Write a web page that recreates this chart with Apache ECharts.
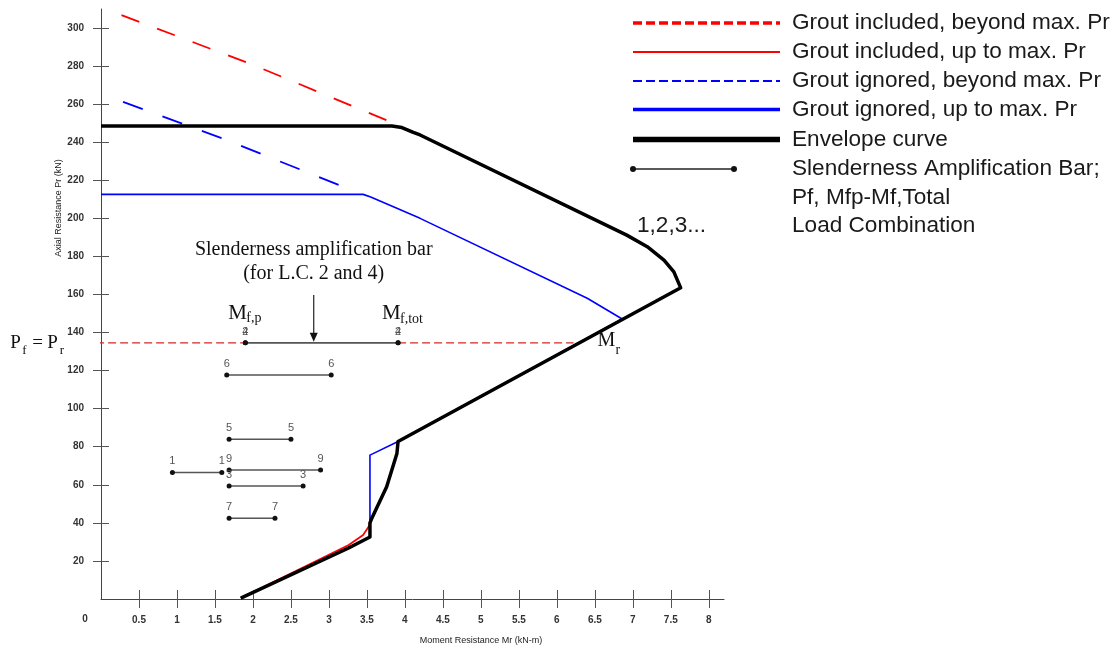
<!DOCTYPE html>
<html><head><meta charset="utf-8">
<script src="https://cdn.jsdelivr.net/npm/echarts@6/dist/echarts.min.js"></script>
<style>html,body{margin:0;padding:0;background:#fff}#c{width:1117px;height:649px}</style>
</head><body><div id="c"></div>
<script>
// ---- data (M in kN-m, P in kN) ----
const groutIncBeyond = [[0.27,306.8],[2.01,280.5],[3.84,250.2]];
const groutIncUpTo = [[0,248.5],[3.83,248.5],[3.96,247.9],[4.11,245.5],[4.2,243.8],[6.92,191.2],[7.19,185.1],[7.41,178.1],[7.54,171.9],[7.63,163.5],[3.91,82.8],[3.895,76.5],[3.76,59],[3.56,42],[3.54,41],[3.52,37.8],[3.45,33.6],[3.26,28.4],[1.84,0.5]];
const groutIgnBeyond = [[0.29,261.2],[1.655,241.1],[3.19,216.6]];
const groutIgnUpTo = [[0,212.6],[3.45,212.6],[3.55,211.2],[4.2,200],[6.4,158],[6.86,147.1],[3.91,82.8],[3.54,75.6],[3.54,43.2],[3.54,32.6],[1.84,0.5]];
const envelope = [[0,248.5],[3.83,248.5],[3.96,247.7],[4.11,245.2],[4.2,243.8],[6.92,191.2],[7.19,185.1],[7.41,178.1],[7.54,171.9],[7.63,163.5],[3.91,82.8],[3.895,76.5],[3.76,59],[3.56,42],[3.54,40],[3.54,32.6],[3.26,26.8],[1.84,0.5]];

// slenderness amplification bars per load combination
const lcIds  = ['1','2','3','4','5','6','7','9'];
const lcPf   = [66.5,134.6,59.4,134.6,84.0,117.7,42.4,67.8];
const lcMfp  = [0.94,1.90,1.686,1.90,1.686,1.655,1.686,1.686];
const lcMtot = [1.59,3.91,2.66,3.91,2.50,3.03,2.29,2.89];

// Pf = Pr reference line (L.C. 2)
const pfLineStartM = -0.38;
const pfLineEndM = 6.22;
const arrowM = 2.80, arrowTopP = 159.7;

const xTicks = [0.5,1,1.5,2,2.5,3,3.5,4,4.5,5,5.5,6,6.5,7,7.5,8];
const yTicks = [20,40,60,80,100,120,140,160,180,200,220,240,260,280,300];

const legendItems = [
  'Grout included, beyond max. Pr',
  'Grout included, up to max. Pr',
  'Grout ignored, beyond max. Pr',
  'Grout ignored, up to max. Pr',
  'Envelope curve',
  'Slenderness Amplification Bar;',
  'Pf, Mfp-Mf,Total',
  'Load Combination'
];

// ---- chart ----
const chart = echarts.init(document.getElementById('c'), null, {renderer:'canvas'});
const tickFont = "'Liberation Sans Narrow','Liberation Sans',Arial,sans-serif";

function mkX(inside){
  return {type:'value', gridIndex:0, position:'bottom', min:0, max:8.2,
    axisLine:{show:!inside, onZero:false, lineStyle:{color:'#444', width:1}},
    axisTick:{show:true, inside:inside, customValues:xTicks, length:9, lineStyle:{color:'#555', width:1}},
    axisLabel:{show:!inside, customValues:xTicks, margin:16, fontSize:10, fontWeight:'bold', fontFamily:tickFont, color:'#333'},
    splitLine:{show:false}};
}
function mkY(inside){
  return {type:'value', gridIndex:0, position:'left', min:0, max:310,
    axisLine:{show:!inside, onZero:false, lineStyle:{color:'#444', width:1}},
    axisTick:{show:true, inside:inside, customValues:yTicks, length:8, lineStyle:{color:'#555', width:1}},
    axisLabel:{show:!inside, customValues:yTicks, margin:17, fontSize:10, fontWeight:'bold', fontFamily:tickFont, color:'#333'},
    splitLine:{show:false}};
}

const series = [];
function curve(data, color, width, type, z){
  series.push({type:'line', data:data, symbol:'none', silent:true, z:z,
    lineStyle:{color:color, width:width, type:type, cap:'butt', join:'round'}});
}
curve(groutIncBeyond, '#ff0000', 1.8, [19,19], 2);
curve(groutIncUpTo, '#ff0000', 1.8, 'solid', 2);
curve(groutIgnBeyond, '#0000ff', 1.8, [21,21], 2);
curve(groutIgnUpTo, '#0000ff', 1.6, 'solid', 3);
curve(envelope, '#000000', 3.5, 'solid', 4);

const pf = lcPf[1];
series.push({type:'line', clip:false, symbol:'none', silent:true, z:3,
  data:[[pfLineStartM,pf],[lcMfp[1],pf]], lineStyle:{color:'#d42a2a', width:1.3, type:[8,4]}});
series.push({type:'line', clip:false, symbol:'none', silent:true, z:3,
  data:[[lcMtot[1],pf],[pfLineEndM,pf]], lineStyle:{color:'#d42a2a', width:1.3, type:[8,4]}});

lcIds.forEach(function(id,i){
  series.push({type:'line', silent:true, z:6,
    data:[[lcMfp[i],lcPf[i]],[lcMtot[i],lcPf[i]]],
    symbol:'circle', symbolSize:5, itemStyle:{color:'#111'},
    lineStyle:{color:'#555', width:1.5},
    label:{show:true, position:'top', distance:3, formatter:id, fontSize:11,
      fontFamily:"'Liberation Sans',Arial,sans-serif", color:'#555'}});
});

chart.setOption({
  animation:false,
  grid:{left:101, right:393, top:9, bottom:50, outerBoundsMode:'none'},
  xAxis:[mkX(false), mkX(true)],
  yAxis:[mkY(false), mkY(true)],
  series:series
});

// ---- annotations positioned from data coordinates ----
function px(m,p){ return chart.convertToPixel({gridIndex:0},[m,p]); }
const serif = "'Liberation Serif','Times New Roman',serif";
const sans = "'Liberation Sans',Arial,sans-serif";
function txt(t,x,y,font,align,color){
  return {type:'text', silent:true, z:100, style:{text:t, x:x, y:y, font:font,
    fill:color||'#111', align:align||'left', verticalAlign:'middle', textAlign:align||'left', textVerticalAlign:'middle'}};
}
const els = [];
const pL = px(lcMfp[1],pf), pR = px(lcMtot[1],pf);
const pS = px(pfLineStartM,pf), pE = px(pfLineEndM,pf);
const aT = px(arrowM,arrowTopP), aB = px(arrowM,pf);

// arrow
els.push({type:'line', silent:true, z:100, shape:{x1:aT[0],y1:aT[1],x2:aB[0],y2:aB[1]-9}, style:{stroke:'#222', lineWidth:1.2}});
els.push({type:'polygon', silent:true, z:100, shape:{points:[[aB[0]-4,aB[1]-10],[aB[0]+4,aB[1]-10],[aB[0],aB[1]-1]]}, style:{fill:'#111'}});
els.push(txt('Slenderness amplification bar', aT[0], aT[1]-45, '20px '+serif, 'center'));
els.push(txt('(for L.C. 2 and 4)', aT[0], aT[1]-21, '20px '+serif, 'center'));

// M_f,p
els.push(txt('M', pL[0]-17, pL[1]-29, '21px '+serif));
els.push(txt('f,p', pL[0]+1, pL[1]-24, '14px '+serif));
// M_f,tot
els.push(txt('M', pR[0]-16, pR[1]-29, '21px '+serif));
els.push(txt('f,tot', pR[0]+2, pR[1]-23, '14px '+serif));
// M_r
els.push(txt('M', pE[0]+24, pE[1]-2, '20px '+serif));
els.push(txt('r', pE[0]+42, pE[1]+7.5, '14px '+serif));
// P_f = P_r
els.push(txt('P', pS[0]-62, pS[1]+0.5, '19px '+serif));
els.push(txt('f', pS[0]-50, pS[1]+8, '13px '+serif));
els.push(txt('=', pS[0]-40, pS[1]+0.5, '19px '+serif));
els.push(txt('P', pS[0]-25, pS[1]+0.5, '19px '+serif));
els.push(txt('r', pS[0]-12.5, pS[1]+8, '13px '+serif));

// axis corner zero and axis titles
const origin = px(0,0);
els.push(txt('0', origin[0]-16, origin[1]+20, 'bold 10px '+tickFont, 'center', '#333'));
els.push({type:'text', silent:true, z:100, x:59, y:208, rotation:Math.PI/2,
  style:{text:'Axial Resistance Pr (kN)', x:0, y:0, font:'9px '+sans, fill:'#222', align:'center', verticalAlign:'middle', textAlign:'center', textVerticalAlign:'middle'}});
els.push(txt('Moment Resistance Mr (kN-m)', 481, 641, '9px '+sans, 'center', '#222'));

// legend (layout)
const lx1 = 633, lx2 = 780, tx = 792;
const rows = [23, 52, 81, 109.5, 139.5, 169, 197.5, 226];
const lstyles = [
  {stroke:'#ff0000', lineWidth:3.3, lineDash:[9,4]},
  {stroke:'#ff0000', lineWidth:2},
  {stroke:'#0000ff', lineWidth:2, lineDash:[9,4]},
  {stroke:'#0000ff', lineWidth:3.3},
  {stroke:'#000000', lineWidth:5.5}
];
lstyles.forEach(function(s,i){
  els.push({type:'line', silent:true, z:100, shape:{x1:lx1,y1:rows[i],x2:lx2,y2:rows[i]}, style:s});
});
els.push({type:'line', silent:true, z:100, shape:{x1:lx1,y1:rows[5],x2:734,y2:rows[5]}, style:{stroke:'#222', lineWidth:1.5}});
els.push({type:'circle', silent:true, z:100, shape:{cx:lx1,cy:rows[5],r:3}, style:{fill:'#111'}});
els.push({type:'circle', silent:true, z:100, shape:{cx:734,cy:rows[5],r:3}, style:{fill:'#111'}});
legendItems.forEach(function(t,i){ els.push(txt(t, tx, rows[i], '22.6px '+sans, 'left', '#1a1a1a')); });
els.push(txt('1,2,3...', 637, rows[7], '22.6px '+sans, 'left', '#1a1a1a'));

chart.setOption({graphic:{elements:els}});
</script>
</body></html>
